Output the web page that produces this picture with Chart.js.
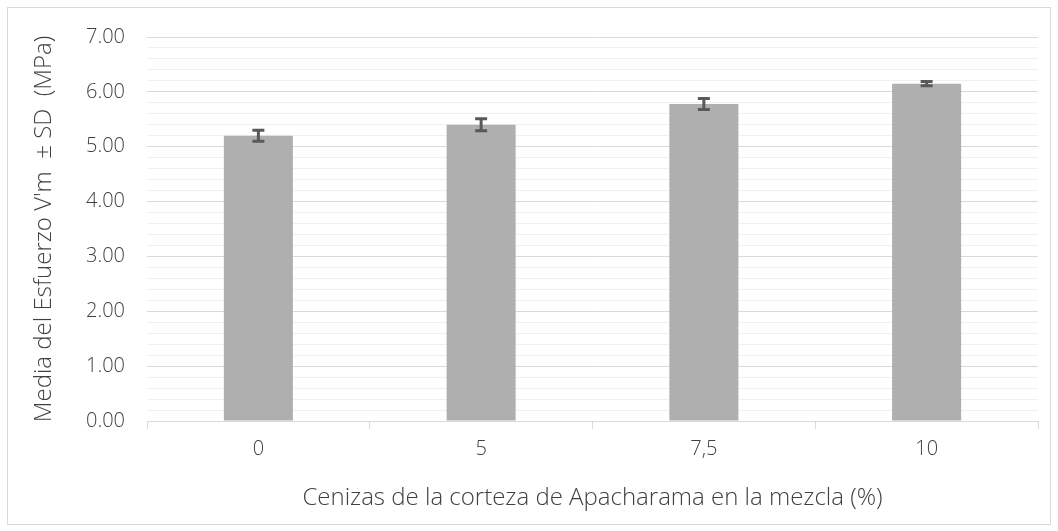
<!DOCTYPE html>
<html>
<head>
<meta charset="utf-8">
<script src="https://cdn.jsdelivr.net/npm/chart.js@4"></script>
<style>
  body { margin: 0; background: #fff; }
  #wrap { width: 1058px; height: 531px; }
</style>
</head>
<body>
<div id="wrap"><canvas id="chart-esfuerzo" width="1058" height="531"></canvas></div>
<script>
// data
var categories = ["0", "5", "7,5", "10"];
var mediaVm = [5.20, 5.40, 5.78, 6.15];
var desvSD = [0.10, 0.11, 0.10, 0.04];
var yTickLabels = ["0.00", "1.00", "2.00", "3.00", "4.00", "5.00", "6.00", "7.00"];

var fontName = "'Open Sans', 'Liberation Sans', sans-serif";

function isMajor(v) {
  return Math.abs(v - Math.round(v)) < 1e-6;
}

// marco gris alrededor del grafico
var marco = {
  id: 'marco',
  beforeDraw: function (chart) {
    var c = chart.ctx;
    c.save();
    c.fillStyle = '#fff';
    c.fillRect(0, 0, chart.width, chart.height);
    c.strokeStyle = '#d9d9d9';
    c.lineWidth = 1;
    c.strokeRect(7.5, 7.5, 1043, 517);
    c.restore();
  }
};

// barras de error (± SD)
var barrasError = {
  id: 'barrasError',
  afterDatasetsDraw: function (chart) {
    var c = chart.ctx;
    var meta = chart.getDatasetMeta(0);
    var y = chart.scales.y;
    c.save();
    c.strokeStyle = '#595959';
    c.lineWidth = 3;
    meta.data.forEach(function (bar, i) {
      var top = y.getPixelForValue(mediaVm[i] + desvSD[i]);
      var bot = y.getPixelForValue(mediaVm[i] - desvSD[i]);
      var x = bar.x;
      c.beginPath();
      c.moveTo(x, top); c.lineTo(x, bot);
      c.moveTo(x - 6, top); c.lineTo(x + 6, top);
      c.moveTo(x - 6, bot); c.lineTo(x + 6, bot);
      c.stroke();
    });
    c.restore();
  }
};

var ctx = document.getElementById('chart-esfuerzo').getContext('2d');
var chart = new Chart(ctx, {
  type: 'bar',
  data: {
    labels: categories,
    datasets: [{
      label: 'Media',
      data: mediaVm,
      backgroundColor: '#afafaf',
      borderWidth: 0,
      categoryPercentage: 1,
      barPercentage: 0.31
    }]
  },
  plugins: [marco, barrasError],
  options: {
    responsive: false,
    animation: false,
    layout: { padding: { left: 22, right: 20, top: 37, bottom: 12 } },
    plugins: {
      legend: { display: false },
      tooltip: { enabled: false }
    },
    scales: {
      x: {
        grid: {
          offset: true,
          drawOnChartArea: false,
          drawTicks: true,
          tickLength: 8,
          color: '#d9d9d9'
        },
        border: { color: '#d9d9d9' },
        ticks: { color: '#404040', font: { family: fontName, size: 20, weight: 300 }, padding: 8 },
        title: {
          display: true,
          text: 'Cenizas de la corteza de Apacharama en la mezcla (%)',
          color: '#404040',
          font: { family: fontName, size: 24, weight: 300 },
          padding: { top: 4, bottom: 6 }
        },
        afterFit: function (scale) { scale.height = 98; }
      },
      y: {
        min: 0,
        max: 7,
        border: { display: false },
        grid: {
          drawTicks: false,
          color: function (c) { return isMajor(c.tick.value) ? '#d9d9d9' : '#f0f0f0'; }
        },
        ticks: {
          stepSize: 0.2,
          autoSkip: false,
          padding: 22,
          color: '#404040',
          font: { family: fontName, size: 20, weight: 300 },
          callback: function (v) {
            return isMajor(v) ? yTickLabels[Math.round(v)] : '';
          }
        },
        title: {
          display: true,
          text: "Media del Esfuerzo V'm  ± SD  (MPa)",
          color: '#404040',
          font: { family: fontName, size: 24, weight: 300 },
          padding: { top: 8, bottom: 4 }
        },
        afterFit: function (scale) { scale.width = 125; }
      }
    }
  }
});
</script>
</body>
</html>
